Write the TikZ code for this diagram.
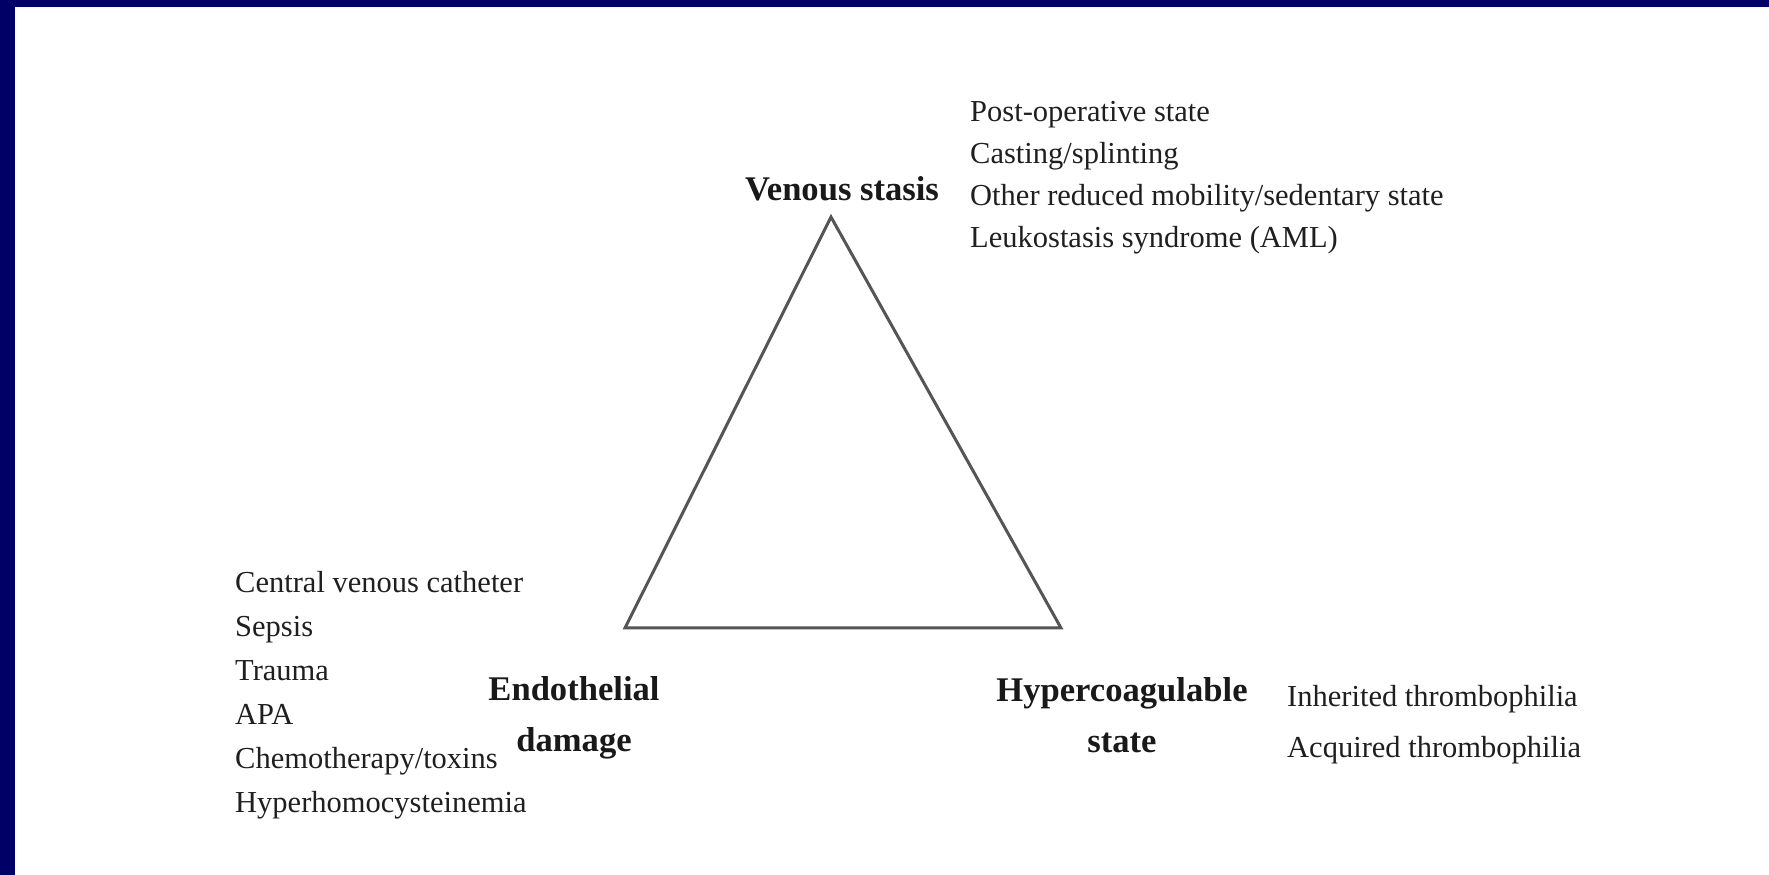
\documentclass[tikz,border=0pt]{standalone}
\usepackage{fontspec}
\setmainfont{Liberation Serif}
\definecolor{navy}{HTML}{000066}
\definecolor{triline}{HTML}{555555}
\begin{document}
\begin{tikzpicture}[x=1pt,y=1pt,
  item/.style={font=\fontsize{30.5}{42}\selectfont, anchor=base west, inner sep=0pt, text=black!88},
  head/.style={font=\fontsize{34.6}{51}\selectfont\bfseries, align=center, anchor=base, inner sep=0pt, text=black!90},
  tri/.style={draw=triline, line width=3pt, line join=miter}]
\fill[navy] (0,0) rectangle (1769,875);
\fill[white] (15,0) rectangle (1769,868);
\useasboundingbox (0,0) rectangle (1769,875);
% triangle
\coordinate (A) at (831,658);
\coordinate (B) at (625,247);
\coordinate (C) at (1061,247);
\draw[tri] (A) -- (B) -- (C) -- cycle;
% headings
\node[head] (vs) at (842,674) {Venous stasis};
\node[head] (ed) at (574,123) {Endothelial\\damage};
\node[head] (hs) at (1122,122) {Hypercoagulable\\state};
% venous stasis list
\node[item] (v1) at (970,753) {Post-operative state};
\node[item] (v2) at (970,711) {Casting/splinting};
\node[item] (v3) at (970,669) {Other reduced mobility/sedentary state};
\node[item] (v4) at (970,627) {Leukostasis syndrome (AML)};
% endothelial list
\node[item] (e1) at (235,282.5) {Central venous catheter};
\node[item] (e2) at (235,238.5) {Sepsis};
\node[item] (e3) at (235,194.5) {Trauma};
\node[item] (e4) at (235,150.5) {APA};
\node[item] (e5) at (235,106.5) {Chemotherapy/toxins};
\node[item] (e6) at (235,62.5) {Hyperhomocysteinemia};
% hypercoagulable list
\node[item] (h1) at (1287,168) {Inherited thrombophilia};
\node[item] (h2) at (1287,117) {Acquired thrombophilia};
\end{tikzpicture}
\end{document}
